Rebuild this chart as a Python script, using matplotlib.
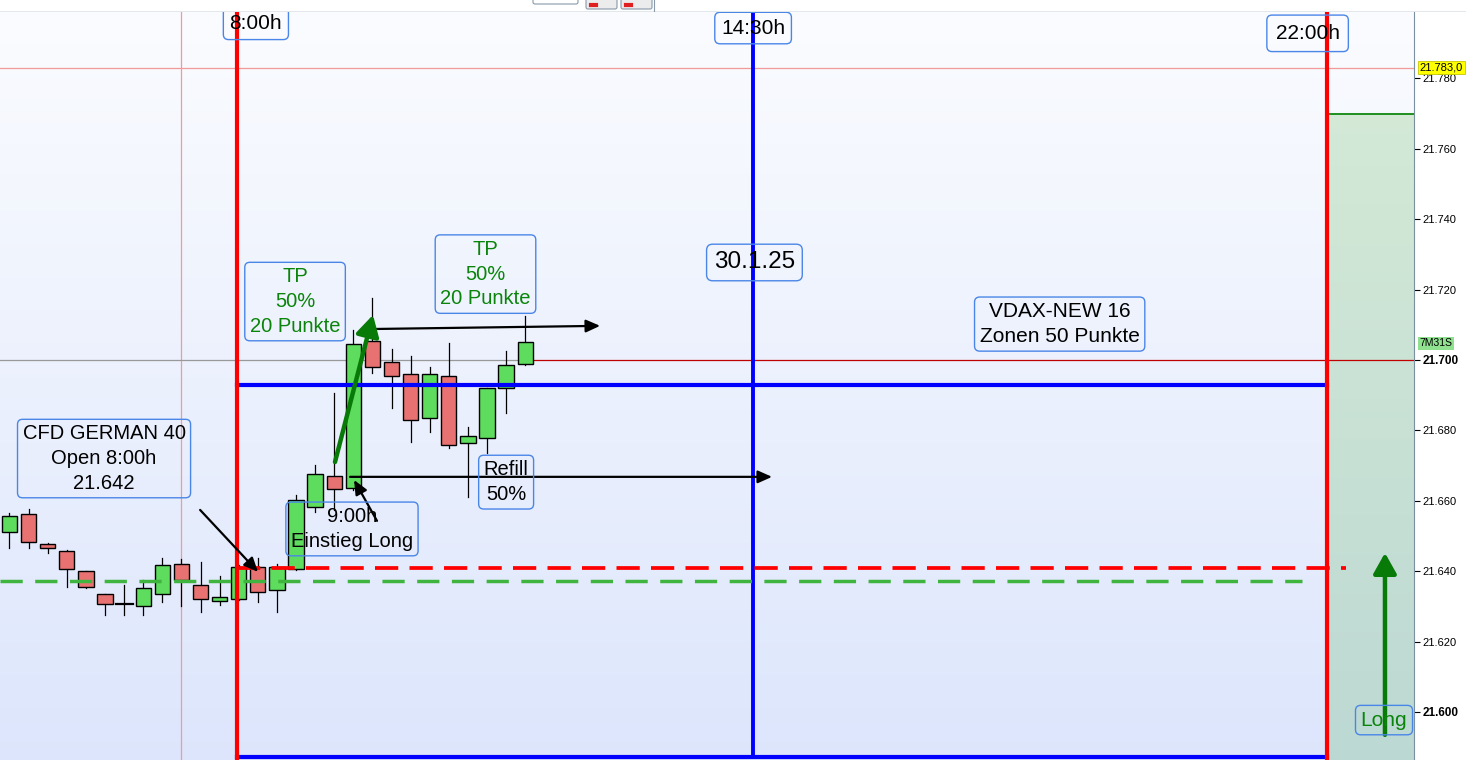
import matplotlib.pyplot as plt
import matplotlib.patches as mpatches
import matplotlib.transforms as mtransforms
import numpy as np

plt.rcParams['font.family'] = ['Liberation Sans', 'DejaVu Sans']

# candles (15 min), index 0 = first visible bar
opens = [21651.1, 21656.3, 21647.7, 21645.7, 21640.1, 21633.5, 21630.7, 21630.1, 21633.5, 21642.0,
         21636.1, 21631.5, 21632.1, 21641.2, 21634.7, 21640.6, 21658.2, 21667.0, 21663.6, 21705.4,
         21699.4, 21696.0, 21683.5, 21695.5, 21676.4, 21677.8, 21692.0, 21698.9]
closes = [21655.7, 21648.3, 21646.6, 21640.6, 21635.5, 21630.7, 21630.6, 21635.2, 21641.8, 21637.5,
          21632.1, 21632.7, 21641.2, 21634.1, 21641.2, 21660.2, 21667.6, 21663.4, 21704.5, 21698.0,
          21695.5, 21683.0, 21696.0, 21675.9, 21678.4, 21692.0, 21698.6, 21705.1]
highs = [21656.5, 21657.7, 21648.0, 21646.0, 21640.1, 21633.5, 21636.1, 21637.5, 21643.8, 21643.5,
         21642.6, 21638.6, 21641.8, 21643.8, 21642.0, 21661.6, 21670.2, 21690.6, 21708.5, 21717.6,
         21703.1, 21701.1, 21698.0, 21704.8, 21681.0, 21692.0, 21702.6, 21712.5]
lows = [21646.6, 21646.6, 21645.2, 21635.5, 21635.3, 21627.6, 21627.6, 21627.6, 21631.3, 21630.0,
        21628.4, 21630.4, 21631.8, 21631.3, 21628.4, 21640.3, 21656.8, 21657.4, 21663.0, 21696.3,
        21686.4, 21676.7, 21679.5, 21675.0, 21661.1, 21673.6, 21684.9, 21698.6]

# levels
open_level = 21641.0      # red dashed, open 8:00h
prev_level = 21637.2      # green dashed
zone_top = 21693.0        # blue zone line
zone_bottom = 21587.3
last_price = 21700.0
high_line = 21783.0
long_box_top = 21770.0

# time markers (bar index)
t_0800 = 11.91
t_1430 = 38.93
t_2200 = 68.98

yticks = [21600, 21620, 21640, 21660, 21680, 21700, 21720, 21740, 21760, 21780]
ytick_labels = ['21.600', '21.620', '21.640', '21.660', '21.680', '21.700', '21.720', '21.740', '21.760', '21.780']

xmin, xmax = -0.497, 73.53
ymin, ymax = 21586.36, 21798.86

fig = plt.figure(figsize=(14.66, 7.6), dpi=100)
fig.patch.set_facecolor('white')
ax = fig.add_axes([0, 0, 1414 / 1466, 748 / 760])
ax.set_xlim(xmin, xmax)
ax.set_ylim(ymin, ymax)

# background gradient
grad = np.linspace(0, 1, 256).reshape(-1, 1)
top_c = np.array([0.982, 0.988, 0.998])
bot_c = np.array([0.865, 0.900, 0.988])
img = top_c + (bot_c - top_c) * grad
ax.imshow(img.reshape(256, 1, 3), extent=[xmin, xmax, ymin, ymax], origin='upper',
          aspect='auto', zorder=0)

# green long area right of 22:00h
gtop = np.array([0.83, 0.915, 0.84])
gbot = np.array([0.74, 0.85, 0.83])
gimg = gtop + (gbot - gtop) * grad
ax.imshow(gimg.reshape(256, 1, 3), extent=[t_2200, xmax, ymin, long_box_top], origin='upper',
          aspect='auto', zorder=0.2)
ax.plot([t_2200, xmax], [long_box_top, long_box_top], color='#008000', lw=1.2, zorder=0.3)

# grid / price lines
ax.axvline(8.98, color='#f29a9a', lw=0.9, zorder=0.5)
ax.axhline(high_line, color='#f29a9a', lw=0.9, zorder=0.5)
ax.plot([xmin, 27], [last_price, last_price], color='#999999', lw=0.9, zorder=0.5)
ax.plot([27, xmax], [last_price, last_price], color='#c00000', lw=0.9, zorder=0.5)

# candles
w = 0.8
for i in range(len(opens)):
    o, c, h, l = opens[i], closes[i], highs[i], lows[i]
    ax.plot([i, i], [l, h], color='black', lw=0.9, zorder=2)
    col = '#5ddc5d' if c > o else '#e87272'
    if abs(c - o) < 0.3:
        ax.plot([i - w / 2 - 0.05, i + w / 2 + 0.05], [o, o], color='black', lw=1.6, zorder=2.1)
    else:
        ax.add_patch(mpatches.Rectangle((i - w / 2, min(o, c)), w, abs(c - o), facecolor=col,
                                        edgecolor='black', lw=1.0, zorder=2.1))

# zone lines
ax.plot([t_0800, t_2200], [zone_top, zone_top], color='#0000ff', lw=3.0, zorder=3)
ax.plot([t_0800, t_2200], [zone_bottom, zone_bottom], color='#0000ff', lw=3.0, zorder=3)
ax.plot([t_1430, t_1430], [zone_bottom, ymax], color='#0000ff', lw=2.8, zorder=3)
ax.axvline(t_0800, color='#ff0000', lw=3.0, zorder=3.2)
ax.axvline(t_2200, color='#ff0000', lw=3.0, zorder=3.2)

# dashed levels
ax.plot([t_0800, 69.97], [open_level, open_level], color='#ff0000', lw=2.7,
        linestyle=(0, (6.2, 3.0)), zorder=3.1)
ax.plot([xmin, 67.67], [prev_level, prev_level], color='#3fb53f', lw=2.5,
        linestyle=(0, (6.4, 3.6)), zorder=3.1)

# arrows
black = dict(arrowstyle='-|>,head_length=0.85,head_width=0.38', color='black', lw=1.6,
             shrinkA=0, shrinkB=0)
ax.annotate('', xy=(13.01, 21639.8), xytext=(9.98, 21657.4), arrowprops=black, zorder=4)
ax.annotate('', xy=(18.04, 21665.9), xytext=(19.24, 21654.3), arrowprops=black, zorder=4)
ax.annotate('', xy=(39.92, 21666.8), xytext=(17.83, 21666.8), arrowprops=black, zorder=4)
ax.annotate('', xy=(30.92, 21709.7), xytext=(19.03, 21708.8), arrowprops=black, zorder=4)
green = dict(arrowstyle='-|>,head_length=1.25,head_width=0.7', color='#087a08', lw=3.2,
             shrinkA=0, shrinkB=0)
ax.annotate('', xy=(19.03, 21712.8), xytext=(17.04, 21671.0), arrowprops=green, zorder=4)
ax.annotate('', xy=(72.01, 21645.2), xytext=(72.01, 21593.5), arrowprops=green, zorder=4)

# text boxes
def box(pad=0.3):
    return dict(boxstyle='round,pad=%s,rounding_size=0.25' % pad, facecolor='none',
                edgecolor='#4a86e8', lw=1.0)

tg = '#0a840a'
ls = 1.38
ax.text(12.9, 21795.5, '8:00h', fontsize=15, ha='center', va='center', bbox=box(), zorder=5)
ax.text(38.93, 21794.3, '14:30h', fontsize=15, ha='center', va='center', bbox=box(), zorder=5)
ax.text(67.96, 21792.8, '22:00h', fontsize=15, ha='center', va='center', bbox=box(0.42), zorder=5)
ax.text(39.0, 21727.7, '30.1.25', fontsize=17.5, ha='center', va='center', bbox=box(), zorder=5)
ax.text(54.98, 21710.2, 'VDAX-NEW 16\nZonen 50 Punkte', fontsize=15, ha='center', va='center',
        multialignment='center', linespacing=ls, bbox=box(0.25), zorder=5)
ax.text(14.95, 21716.6, 'TP\n50%\n20 Punkte', fontsize=14.5, color=tg, ha='center', va='center',
        multialignment='center', linespacing=ls, bbox=box(0.25), zorder=5)
ax.text(24.92, 21724.4, 'TP\n50%\n20 Punkte', fontsize=14.5, color=tg, ha='center', va='center',
        multialignment='center', linespacing=ls, bbox=box(0.25), zorder=5)
ax.text(4.95, 21672.0, 'CFD GERMAN 40\nOpen 8:00h\n21.642', fontsize=14.5, ha='center',
        va='center', multialignment='center', linespacing=ls, bbox=box(0.25), zorder=5)
ax.text(17.93, 21652.0, '9:00h\nEinstieg Long', fontsize=14.5, ha='center', va='center',
        multialignment='center', linespacing=ls, bbox=box(0.25), zorder=5)
ax.text(26.0, 21665.3, 'Refill\n50%', fontsize=14.5, ha='center', va='center',
        multialignment='center', linespacing=ls, bbox=box(0.25), zorder=5)
ax.text(71.96, 21597.7, 'Long', fontsize=15, color=tg, ha='center', va='center',
        bbox=box(0.25), zorder=5)

# right price axis
ax.yaxis.tick_right()
ax.set_yticks(yticks)
ax.set_yticklabels(ytick_labels)
ax.tick_params(axis='y', length=4, width=0.8, pad=2, labelsize=8, colors='black')
for lbl in ax.get_yticklabels():
    if lbl.get_text() in ('21.600', '21.700'):
        lbl.set_fontweight('bold')
        lbl.set_fontsize(8.5)
ax.set_xticks([])
for s in ['top', 'left', 'bottom']:
    ax.spines[s].set_visible(False)
ax.spines['right'].set_color('#7a8fa0')

trans = mtransforms.blended_transform_factory(ax.transAxes, ax.transData)
ax.text(1.004, high_line, '21.783,0', transform=trans, fontsize=8, ha='left', va='center',
        clip_on=False, zorder=6,
        bbox=dict(boxstyle='square,pad=0.15', facecolor='#ffff00', edgecolor='#c8c800', lw=0.6))
ax.text(1.004, 21704.8, '7M31S', transform=trans, fontsize=7.5, ha='left', va='center',
        clip_on=False, zorder=6,
        bbox=dict(boxstyle='square,pad=0.15', facecolor='#8fe08f', edgecolor='none'))

# top toolbar strip
top = fig.add_axes([0, 748 / 760, 1, 12 / 760])
top.set_zorder(10)
top.set_xlim(0, 1466)
top.set_ylim(12, 0)
top.axis('off')
top.add_patch(mpatches.Rectangle((0, 0), 1466, 12, facecolor='white', edgecolor='none'))
top.plot([0, 1466], [11.5, 11.5], color='#6d8799', lw=1.0)
top.add_patch(mpatches.FancyBboxPatch((533, -6), 45, 10, boxstyle='round,pad=0,rounding_size=2',
                                      facecolor='white', edgecolor='#8899aa', lw=0.8))
for bx in (586, 621):
    top.add_patch(mpatches.FancyBboxPatch((bx, -6), 31, 15, boxstyle='round,pad=0,rounding_size=2',
                                          facecolor='#ececec', edgecolor='#8899aa', lw=0.8))
    top.plot([bx + 5, bx + 10], [5, 5], color='#e02020', lw=3)
top.plot([654, 654], [0, 12], color='#8899aa', lw=0.8)

fig.savefig('out.png', dpi=100)
